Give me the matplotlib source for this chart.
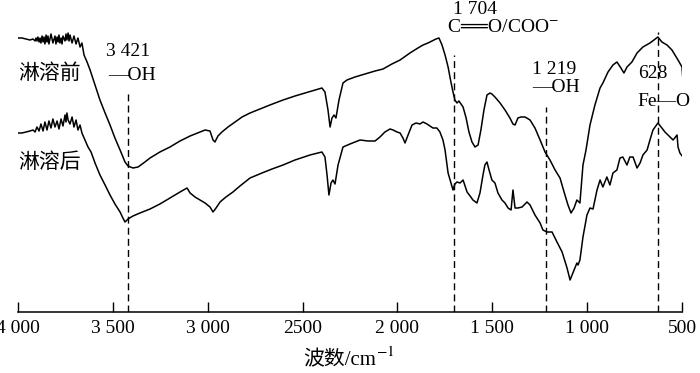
import matplotlib
matplotlib.use("Agg")
import matplotlib.pyplot as plt

plt.rcParams['font.family'] = ['Liberation Serif', 'Noto Sans CJK SC', 'DejaVu Sans']
plt.rcParams['mathtext.fontset'] = 'stix'

# wavenumber (cm-1) and relative transmittance
wn_before = [4000, 3979, 3958, 3937, 3921, 3910, 3905, 3900, 3895, 3889, 3884, 3879, 3873, 3868,
             3863, 3858, 3852, 3847, 3842, 3837, 3826, 3816, 3805, 3800, 3794, 3789, 3784, 3779,
             3773, 3768, 3763, 3752, 3747, 3742, 3736, 3731, 3726, 3715, 3705, 3694, 3684, 3673,
             3663, 3652, 3636, 3620, 3594, 3568, 3541, 3515, 3489, 3462, 3436, 3420, 3394, 3367,
             3331, 3304, 3252, 3199, 3146, 3093, 3041, 3014, 2988, 2972, 2962, 2946, 2925, 2893,
             2856, 2819, 2777, 2724, 2672, 2603, 2540, 2487, 2434, 2398, 2382, 2366, 2355, 2345,
             2334, 2324, 2308, 2287, 2266, 2224, 2171, 2118, 2076, 2029, 1986, 1934, 1892, 1865,
             1839, 1818, 1797, 1781, 1765, 1749, 1733, 1718, 1707, 1697, 1686, 1676, 1665, 1654,
             1638, 1623, 1607, 1591, 1575, 1560, 1544, 1528, 1512, 1502, 1486, 1459, 1433, 1423,
             1407, 1391, 1380, 1365, 1349, 1327, 1301, 1275, 1248, 1222, 1196, 1169, 1143, 1117,
             1101, 1085, 1069, 1054, 1038, 1022, 1006, 985, 959, 932, 917, 890, 864, 843, 822,
             806, 790, 764, 737, 706, 669, 648, 627, 606, 579, 553, 521, 500, 495]
t_before = [274, 274, 273, 272, 273, 271, 274, 271, 275, 270, 274, 269, 276, 270,
            275, 268, 277, 270, 276, 268, 278, 269, 276, 268, 275, 270, 277, 269,
            274, 268, 276, 271, 278, 272, 279, 271, 277, 269, 276, 268, 274, 265,
            269, 257, 250, 242, 227, 212, 199, 187, 174, 162, 150, 146, 144, 145,
            150, 154, 160, 165, 171, 176, 180, 182, 181, 172, 170, 176, 180, 185,
            190, 195, 199, 203, 207, 212, 216, 219, 222, 224, 220, 202, 185, 194,
            197, 194, 212, 229, 232, 235, 238, 241, 243, 248, 252, 259, 264, 267,
            269, 271, 273, 274, 267, 257, 245, 230, 220, 212, 209, 211, 208, 205,
            194, 180, 170, 165, 167, 182, 202, 217, 219, 218, 215, 209, 202, 199,
            194, 188, 187, 194, 195, 195, 192, 184, 172, 160, 152, 142, 134, 117,
            107, 99, 104, 112, 109, 147, 162, 187, 207, 224, 229, 240, 247, 250, 244,
            239, 245, 250, 259, 265, 269, 272, 275, 270, 267, 262, 252, 245, 232]

wn_after = [4000, 3979, 3958, 3937, 3921, 3910, 3900, 3889, 3879, 3868, 3858, 3847, 3837, 3826,
            3816, 3805, 3794, 3784, 3773, 3763, 3752, 3747, 3742, 3736, 3726, 3715, 3705, 3694,
            3684, 3673, 3663, 3647, 3631, 3615, 3594, 3568, 3541, 3515, 3489, 3462, 3447, 3436,
            3420, 3394, 3357, 3304, 3252, 3199, 3146, 3109, 3093, 3067, 3041, 3014, 2988, 2972,
            2956, 2935, 2904, 2867, 2830, 2777, 2714, 2661, 2603, 2540, 2461, 2419, 2398, 2382,
            2371, 2361, 2350, 2340, 2329, 2313, 2287, 2250, 2197, 2155, 2118, 2092, 2066, 2039,
            2023, 2002, 1986, 1971, 1960, 1944, 1923, 1902, 1881, 1865, 1844, 1829, 1813, 1792,
            1776, 1760, 1749, 1733, 1712, 1707, 1697, 1686, 1670, 1654, 1633, 1617, 1602, 1581,
            1565, 1549, 1539, 1528, 1517, 1502, 1486, 1470, 1449, 1433, 1417, 1401, 1391, 1380,
            1365, 1343, 1317, 1301, 1275, 1248, 1233, 1212, 1185, 1159, 1132, 1106, 1090, 1075,
            1054, 1048, 1038, 1022, 1001, 985, 969, 948, 932, 917, 896, 880, 864, 843, 827, 812,
            790, 775, 758, 737, 721, 706, 684, 669, 653, 627, 606, 590, 563, 547, 526, 521, 511,
            495]
t_after = [179, 179, 180, 181, 182, 180, 185, 181, 188, 181, 190, 182, 191, 184,
           193, 185, 191, 183, 193, 186, 197, 190, 199, 192, 188, 195, 185, 192,
           182, 187, 179, 172, 165, 160, 149, 137, 127, 117, 108, 100, 94, 90,
           93, 96, 99, 103, 108, 114, 120, 124, 119, 115, 112, 109, 105, 100,
           104, 110, 115, 120, 126, 134, 139, 143, 147, 152, 157, 159, 160, 155,
           137, 117, 129, 132, 128, 147, 165, 168, 172, 171, 171, 175, 180, 183,
           182, 180, 179, 174, 169, 177, 187, 189, 188, 190, 188, 186, 184, 184,
           180, 172, 162, 139, 125, 122, 128, 130, 129, 132, 120, 116, 112, 109,
           119, 137, 147, 150, 142, 132, 129, 119, 112, 109, 104, 102, 122, 104,
           104, 105, 110, 107, 97, 89, 82, 80, 80, 70, 60, 44, 32, 39,
           49, 47, 52, 75, 97, 104, 103, 122, 132, 125, 135, 127, 139, 142, 154, 155,
           147, 155, 155, 144, 149, 157, 162, 172, 182, 189, 184, 180, 175, 172, 177, 165, 159,
           155]

# marked bands: position, top of dashed line
peak_wn = [3421, 1704, 1219, 628]
peak_top = [220, 257, 205, 280]

tick_pos = [4000, 3500, 3000, 2500, 2000, 1500, 1000, 500]
tick_lab = ['4 000', '3 500', '3 000', '2500', '2 000', '1 500', '1 000', '500']

fig = plt.figure(figsize=(7, 3.73), dpi=100)
ax = fig.add_axes([18/700, 61/373, 664/700, 312/373])

ax.plot(wn_before, t_before, color='black', lw=1.1)
ax.plot(wn_after, t_after, color='black', lw=1.1)

for w, top in zip(peak_wn, peak_top):
    ax.plot([w, w], [0, top], color='black', lw=1.0, dashes=(5, 3))

ax.set_xlim(4000, 500)
ax.set_ylim(0, 312)

for s in ['top', 'right', 'left']:
    ax.spines[s].set_visible(False)
ax.spines['bottom'].set_linewidth(1.1)
ax.set_yticks([])
ax.set_xticks(tick_pos)
ax.set_xticklabels(tick_lab)
ax.tick_params(axis='x', direction='in', length=7, width=1.0, pad=6, labelsize=14)

fs = 14
ax.text(4000, 239, '淋溶前', fontsize=15, va='center', ha='left', family=['Noto Sans CJK SC'])
ax.text(4000, 150, '淋溶后', fontsize=15, va='center', ha='left', family=['Noto Sans CJK SC'])
ax.text(3420, 261, '3 421', fontsize=fs, va='center', ha='center')
ax.text(3526, 237, '—OH', fontsize=fs, va='center', ha='left')
ax.text(1707, 302, '1 704', fontsize=fs, va='center', ha='left', clip_on=False)
ax.text(1739, 285, 'C══O/COO$^{-}$', fontsize=fs, va='center', ha='left',
        family=['Liberation Serif', 'DejaVu Sans'])
ax.text(1291, 242, '1 219', fontsize=fs, va='center', ha='left')
ax.text(1291, 224, '—OH', fontsize=fs, va='center', ha='left')
ax.text(732, 238, '628', fontsize=fs, va='center', ha='left')
ax.text(737, 211, 'Fe—O', fontsize=fs, va='center', ha='left', clip_on=False)

# x label: CJK part plus a raised "-1"
fig.text(376/700, 1 - 361/373, '波数/cm', fontsize=15, ha='right', va='center',
         family=['Liberation Serif', 'Noto Sans CJK SC'])
fig.text(376/700, 1 - 352/373, '$-1$', fontsize=11, ha='left', va='center')

fig.savefig('out.png', dpi=100, facecolor='white')
